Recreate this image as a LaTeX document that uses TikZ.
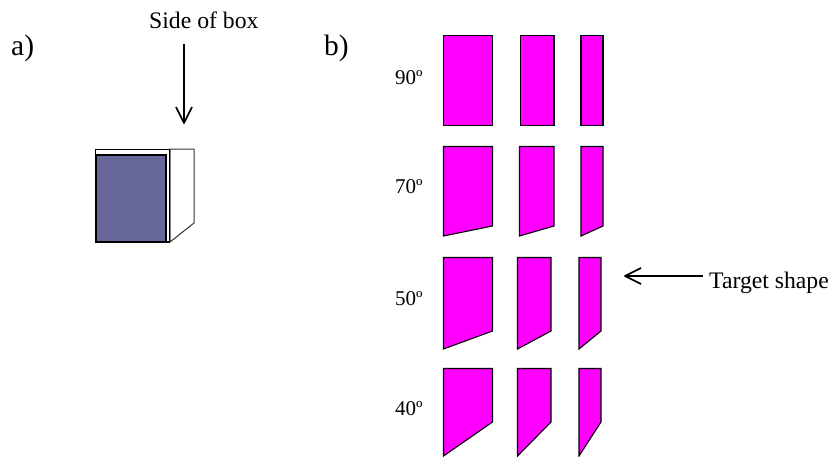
\documentclass[tikz,border=0pt]{standalone}
\usepackage{fontspec}
\setmainfont{Liberation Serif}
\usetikzlibrary{calc}
\definecolor{mag}{RGB}{255,0,255}
\definecolor{slate}{RGB}{102,102,153}
\tikzset{
  panel/.style={draw=black,fill=mag,line width=1.1pt,line join=miter},
  bigl/.style={inner sep=0pt,font=\fontsize{29.5}{32}\selectfont,anchor=base west},
  lab/.style={inner sep=0pt,font=\fontsize{23.7}{28}\selectfont,anchor=base west},
  ang/.style={inner sep=0pt,font=\fontsize{21}{24}\selectfont,anchor=base west},
  pointer/.style={draw=black,line width=1.7pt,line join=round}
}
\begin{document}
\begin{tikzpicture}[x=1pt,y=-1pt]
\useasboundingbox (0,0) rectangle (832,456);
% box
\draw[black!80,line width=1pt,fill=white] (170,149) -- (194,149) -- (194,223) -- (170,242) -- cycle;
\draw[black,line width=1.3pt,fill=white] (95.5,149.5) rectangle (169.5,242);
\draw[black,line width=2pt,fill=slate] (96,154.5) rectangle (165.5,241.5);
% row 1
\draw[panel] (443.5,35.5) rectangle (492.5,125.5);
\draw[panel] (520.5,35.5) rectangle (554,125.5);
\draw[panel] (581,35.5) rectangle (603,125.5);
% row 2
\draw[panel] (443.5,146.5) -- (492.5,146.5) -- (492.5,226) -- (443.5,236) -- cycle;
\draw[panel] (519.5,146.5) -- (554,146.5) -- (554,226) -- (519.5,236) -- cycle;
\draw[panel] (581,146.5) -- (603,146.5) -- (603,226) -- (581,236) -- cycle;
% row 3
\draw[panel] (443.5,257.5) -- (492.5,257.5) -- (492.5,331) -- (443.5,349) -- cycle;
\draw[panel] (517.5,257.5) -- (551,257.5) -- (551,331) -- (517.5,349) -- cycle;
\draw[panel] (579,257.5) -- (601,257.5) -- (601,331) -- (579,349) -- cycle;
% row 4
\draw[panel] (443.5,368.5) -- (492.5,368.5) -- (492.5,422) -- (443.5,456) -- cycle;
\draw[panel] (517.5,368.5) -- (551,368.5) -- (551,422) -- (517.5,456) -- cycle;
\draw[panel] (579,368.5) -- (601,368.5) -- (601,422) -- (579,456) -- cycle;
% labels
\node[bigl] (a) at (11,55) {a)};
\node[bigl] (b) at (324,55) {b)};
\node[lab] (side) at (149,28) {Side of box};
\node[lab] (target) at (709,288) {Target shape};
\node[ang] (n90) at (395,84) {90º};
\node[ang] (n70) at (395,193) {70º};
\node[ang] (n50) at (395,305) {50º};
\node[ang] (n40) at (395,415.5) {40º};
% arrows
\coordinate (sideTail) at (184,44);
\coordinate (sideTip) at (184,123);
\coordinate (targetTail) at (703,276);
\coordinate (targetTip) at (625,276);
\draw[pointer] (sideTail) -- (sideTip);
\draw[pointer] ($(sideTip)+(-8,-16)$) -- (sideTip) -- ($(sideTip)+(8,-16)$);
\draw[pointer] (targetTail) -- (targetTip);
\draw[pointer] ($(targetTip)+(16,-8)$) -- (targetTip) -- ($(targetTip)+(16,8)$);
\end{tikzpicture}
\end{document}
